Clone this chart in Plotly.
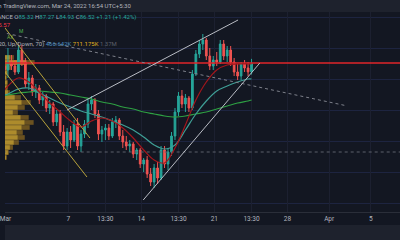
import plotly.graph_objects as go
import pandas as pd

# ---------------- data (8h candles, times in UTC+5:30) ----------------
candle_start = "2022-02-28 21:30"
candle_count = 72
times = pd.date_range(candle_start, periods=candle_count, freq="8h")

opens = [86.2, 85.6, 86.8, 86.2, 85.3, 88.6, 86.8, 83.5, 84.4, 82.3, 82.9, 81.1,
         81.7, 79.9, 80.5, 77.8, 79.0, 76.3, 74.2, 76.3, 75.1, 77.5, 74.2, 76.0,
         77.5, 80.5, 81.1, 79.0, 76.0, 76.6, 76.9, 75.7, 77.8, 78.1, 75.7, 74.8,
         74.2, 74.5, 73.0, 73.6, 71.5, 72.1, 70.0, 68.8, 70.9, 69.4, 73.6, 71.5,
         73.3, 75.7, 79.3, 81.7, 80.5, 81.4, 79.9, 85.0, 88.0, 89.5, 90.1, 87.7,
         86.2, 87.1, 86.8, 89.5, 87.7, 88.6, 86.8, 85.3, 84.7, 86.5, 85.9, 85.32]
highs = [87.7, 88.9, 87.85, 87.1, 89.2, 89.35, 87.4, 85.3, 84.85, 83.5, 83.35, 82.3,
         82.0, 81.1, 80.8, 79.6, 79.6, 77.35, 76.9, 77.2, 78.1, 78.4, 76.6, 78.1,
         81.4, 81.7, 81.4, 79.6, 77.2, 77.5, 77.5, 78.4, 78.7, 78.4, 76.6, 75.7,
         75.1, 74.8, 73.9, 73.9, 72.4, 72.7, 70.9, 71.5, 71.8, 74.2, 74.2, 73.9,
         76.3, 79.9, 82.3, 82.6, 82.0, 81.7, 85.6, 88.6, 90.1, 91.0, 90.4, 88.9,
         87.7, 88.3, 90.1, 90.1, 89.2, 89.2, 87.4, 86.5, 86.8, 87.1, 86.8, 87.27]
lows = [85.0, 84.4, 85.6, 84.85, 85.0, 86.2, 82.9, 82.6, 81.7, 81.4, 80.5, 80.2,
        79.3, 79.0, 77.2, 77.2, 75.7, 73.6, 73.6, 73.9, 74.8, 73.6, 73.3, 75.4,
        76.9, 79.6, 78.4, 75.1, 74.8, 75.1, 75.1, 75.4, 76.9, 75.1, 73.9, 73.6,
        73.3, 72.4, 72.1, 70.9, 70.3, 69.4, 68.2, 67.9, 68.5, 69.1, 70.9, 70.6,
        72.7, 75.1, 78.7, 79.9, 79.3, 79.3, 79.6, 84.7, 87.4, 88.6, 87.1, 85.6,
        85.6, 86.2, 86.5, 87.1, 86.8, 86.2, 84.7, 84.1, 84.1, 85.3, 84.7, 84.93]
closes = [85.6, 86.8, 86.2, 85.3, 88.6, 86.8, 83.5, 84.4, 82.3, 82.9, 81.1, 81.7,
          79.9, 80.5, 77.8, 79.0, 76.3, 74.2, 76.3, 75.1, 77.5, 74.2, 76.0, 77.5,
          80.5, 81.1, 79.0, 76.0, 76.6, 76.9, 75.7, 77.8, 78.1, 75.7, 74.8, 74.2,
          74.5, 73.0, 73.6, 71.5, 72.1, 70.0, 68.8, 70.9, 69.4, 73.6, 71.5, 73.3,
          75.7, 79.3, 81.7, 80.5, 81.4, 79.9, 85.0, 88.0, 89.5, 90.1, 87.7, 86.2,
          87.1, 86.8, 89.5, 87.7, 88.6, 86.8, 85.3, 84.7, 86.5, 85.9, 85.32, 86.52]

# moving averages sampled at these candle indices
ma_index = [0] + list(range(1, 71, 3)) + [71]
ma_fast = [82.6, 83.2, 84.4, 83.8, 82.3, 80.65, 79.3, 77.95, 77.05, 77.95, 78.4, 77.95,
           76.9, 75.4, 73.6, 72.1, 71.65, 73.9, 77.35, 81.1, 83.8, 85.6, 86.35, 86.5,
           86.5, 86.5]
ma_mid = [81.85, 82.0, 82.75, 82.9, 82.15, 81.4, 80.65, 80.05, 79.45, 79.0, 78.55, 77.95,
          77.35, 76.6, 75.55, 74.35, 73.75, 74.35, 76.6, 79.0, 80.95, 82.45, 83.2, 83.8,
          84.25, 84.25]
ma_slow = [81.8, 81.85, 82.15, 82.3, 82.45, 82.3, 82.15, 81.85, 81.55, 81.25, 80.8, 80.5,
           80.05, 79.75, 79.3, 79.0, 78.7, 78.55, 78.7, 79.0, 79.3, 79.75, 80.2, 80.65,
           80.95, 81.1]

# visible-range volume profile (price rows, volume in 10K)
vp_price = [87.48, 86.73, 85.98, 85.23, 84.48, 83.73, 82.98, 82.23, 81.48, 80.73, 79.98,
            79.23, 78.48, 77.73, 76.98, 76.23, 75.48, 74.73, 73.98, 73.23, 72.48]
vp_up = [5, 22, 4, 2, 1, 2, 2, 3, 10, 17, 13, 8, 16, 20, 17, 12, 13, 9, 5, 3, 1]
vp_down = [4, 8, 3, 1, 1, 1, 1, 2, 6, 9, 7, 5, 8, 9, 8, 6, 7, 5, 3, 1, 1]

# drawings (time, price)
white_up_t = ["2022-03-06 21:30", "2022-03-23 06:30"]
white_up_p = [79.6, 93.1]
white_low_t = ["2022-03-14 04:30", "2022-03-25 08:30"]
white_low_p = [66.1, 86.65]
dash_trend_t = ["2022-02-28 00:00", "2022-04-02 14:00"]
dash_trend_p = [91.45, 80.26]
chan_a_t = ["2022-02-28 00:00", "2022-03-09 02:00"]
chan_a_p = [93.82, 75.4]
chan_b_t = ["2022-02-28 00:00", "2022-03-08 19:10"]
chan_b_p = [87.2, 69.55]
level_t = ["2022-02-27", "2022-04-09"]
red_level = 86.65
gray_level = 73.3

tick_vals = ["2022-03-01", "2022-03-07", "2022-03-10 13:30", "2022-03-14",
             "2022-03-17 13:30", "2022-03-21", "2022-03-24 13:30", "2022-03-28",
             "2022-04-01", "2022-04-05"]
tick_text = ["Mar", "7", "13:30", "14", "13:30", "21", "13:30", "28", "Apr", "5"]

# ---------------- figure ----------------
BG = "#131722"
PANEL = "#1e222d"
TXT = "#b2b5be"
UP = "#26a69a"
DN = "#ef5350"
FONT = "Roboto"

fig = go.Figure()

poc = max(u + d for u, d in zip(vp_up, vp_down))
up_cols = ["rgba(214,150,40,0.9)" if u + d == poc else "rgba(201,160,46,0.85)"
           for u, d in zip(vp_up, vp_down)]
fig.add_trace(go.Bar(y=vp_price, x=vp_up, orientation="h", width=0.7,
                     marker=dict(color=up_cols, line=dict(width=0)),
                     xaxis="x", yaxis="y"))
fig.add_trace(go.Bar(y=vp_price, x=vp_down, base=vp_up, orientation="h", width=0.7,
                     marker=dict(color="rgba(130,98,32,0.8)", line=dict(width=0)),
                     xaxis="x", yaxis="y"))

# horizontal levels
fig.add_trace(go.Scatter(x=level_t, y=[gray_level, gray_level], mode="lines",
                         line=dict(color="#5d606b", width=1, dash="dot"),
                         xaxis="x2", yaxis="y"))
fig.add_trace(go.Scatter(x=level_t, y=[red_level, red_level], mode="lines",
                         line=dict(color="#e0262a", width=1.5),
                         xaxis="x2", yaxis="y"))

ma_t = [times[i] for i in ma_index]
fig.add_trace(go.Scatter(x=ma_t, y=ma_slow, mode="lines", line_shape="spline",
                         line=dict(color="#2ea043", width=1.2), xaxis="x2", yaxis="y"))
fig.add_trace(go.Scatter(x=ma_t, y=ma_mid, mode="lines", line_shape="spline",
                         line=dict(color="#3f9f96", width=1.2), xaxis="x2", yaxis="y"))
fig.add_trace(go.Scatter(x=ma_t, y=ma_fast, mode="lines", line_shape="spline",
                         line=dict(color="#a3161c", width=1.2), xaxis="x2", yaxis="y"))

fig.add_trace(go.Candlestick(
    x=times, open=opens, high=highs, low=lows, close=closes,
    increasing=dict(line=dict(color=UP, width=1), fillcolor=UP),
    decreasing=dict(line=dict(color=DN, width=1), fillcolor=DN),
    xaxis="x2", yaxis="y"))

# drawings
for tt, pp, col, dash in [
    (chan_a_t, chan_a_p, "#b8a33c", "solid"),
    (chan_b_t, chan_b_p, "#b8a33c", "solid"),
    (dash_trend_t, dash_trend_p, "#7e818b", "dot"),
    (white_up_t, white_up_p, "#b9bcc4", "solid"),
    (white_low_t, white_low_p, "#b9bcc4", "solid"),
]:
    fig.add_trace(go.Scatter(x=tt, y=pp, mode="lines",
                             line=dict(color=col, width=1, dash=dash),
                             xaxis="x2", yaxis="y"))

H = 200.0  # plot height px


def py(ypx):
    return (212 - ypx) / H


annotations = [
    dict(text="Published on TradingView.com, Mar 24, 2022 16:54 UTC+5:30",
         x=130 / 400, y=py(5.5), xanchor="right", font=dict(size=6, color=TXT)),
    dict(text=("AVAXUSDT, 480, BINANCE "
               "O<span style='color:#26a69a'>85.32</span> "
               "H<span style='color:#26a69a'>87.27</span> "
               "L<span style='color:#26a69a'>84.93</span> "
               "C<span style='color:#26a69a'>86.52</span> "
               "<span style='color:#26a69a'>+1.21 (+1.42%)</span>"),
         x=135 / 400, y=py(17), xanchor="right", font=dict(size=6, color=TXT)),
    dict(text="85.57", x=8 / 400, y=py(24), xanchor="right",
         font=dict(size=6, color="#f23645")),
    dict(text="M", x=12 / 400, y=py(31), xanchor="left",
         font=dict(size=5, color="#4caf50")),
    dict(text="AX", x=0, y=py(37), xanchor="left",
         font=dict(size=5, color="#7cb342")),
    dict(text=("Number Of Rows, 120, Up/Down, 70) "
               "<span style='color:#4a8fc4'>466.642K</span> "
               "<span style='color:#e0b020'>711.175K</span> "
               "<span style='color:#5d606b'>1.37M</span>"),
         x=115 / 400, y=py(44), xanchor="right", font=dict(size=6, color=TXT)),
]
for a in annotations:
    a.update(xref="paper", yref="paper", yanchor="middle", showarrow=False)

fig.update_layout(
    width=400, height=240,
    margin=dict(l=0, r=0, t=12, b=28),
    paper_bgcolor=BG, plot_bgcolor=BG,
    font=dict(family=FONT, color=TXT, size=6),
    showlegend=False, hovermode=False, barmode="overlay",
    xaxis=dict(range=[0, 400], visible=False, fixedrange=True),
    xaxis2=dict(type="date", overlaying="x", anchor="y", side="bottom",
                range=["2022-02-28 22:41", "2022-04-07 18:50"],
                tickmode="array", tickvals=tick_vals, ticktext=tick_text,
                showgrid=True, gridcolor="#1c2030", gridwidth=1,
                showline=True, linecolor="#2a2e39", linewidth=1,
                ticks="", tickfont=dict(size=6.5, color=TXT, family=FONT),
                ticklabeloverflow="allow",
                rangeslider=dict(visible=False), zeroline=False),
    yaxis=dict(range=[64.3, 94.3], showticklabels=False, tick0=88.9, dtick=4.65,
               showgrid=True, gridcolor="#1d2440", gridwidth=1, zeroline=False,
               ticks=""),
    annotations=annotations,
    shapes=[
        dict(type="rect", xref="paper", yref="paper", x0=0, x1=1, y0=1, y1=1.06,
             fillcolor=PANEL, line=dict(width=0), layer="above"),
        dict(type="rect", xref="paper", yref="paper", x0=0, x1=1, y0=-0.14, y1=-0.065,
             fillcolor=PANEL, line=dict(width=0), layer="above"),
    ],
)

fig.write_html("out.html", config={"displayModeBar": False})
